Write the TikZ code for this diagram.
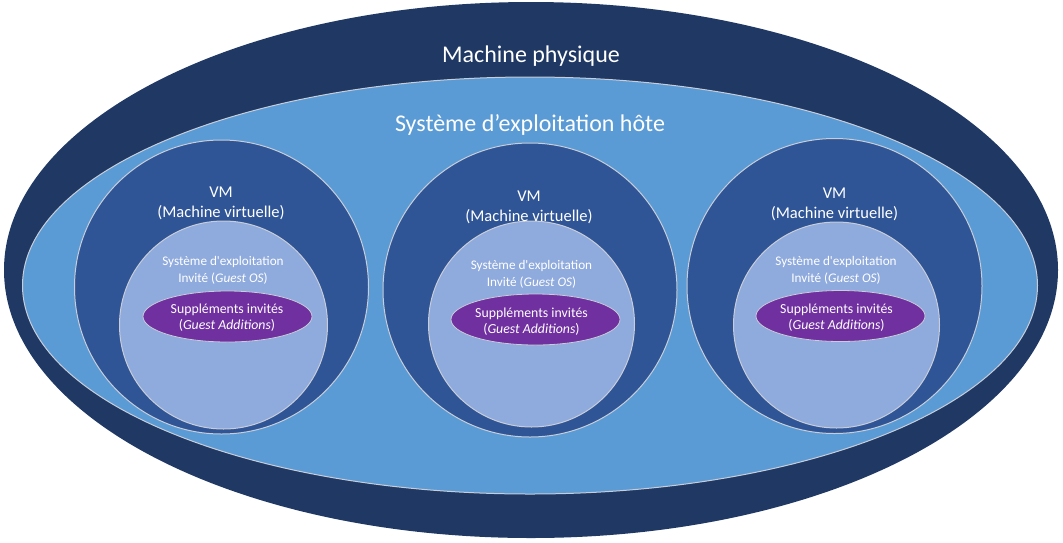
\documentclass[tikz,border=0pt]{standalone}
\usepackage{fontspec}
\setmainfont{Carlito}
\usepackage{tikz}
\usetikzlibrary{shapes.geometric}
\definecolor{physblue}{RGB}{32,56,100}
\definecolor{hostblue}{RGB}{91,155,213}
\definecolor{vmblue}{RGB}{47,85,151}
\definecolor{guestblue}{RGB}{143,170,220}
\definecolor{addpurple}{RGB}{112,48,160}
\definecolor{rimgray}{RGB}{200,205,215}
\tikzstyle{physnode}=[draw=none, shape=ellipse, fill=physblue, inner sep=0pt]
\tikzstyle{hostnode}=[draw=rimgray, line width=1pt, shape=ellipse, fill=hostblue, inner sep=0pt]
\tikzstyle{vmnode}=[draw=rimgray, line width=1pt, shape=circle, fill=vmblue, inner sep=0pt]
\tikzstyle{guestnode}=[draw=rimgray, line width=1pt, shape=circle, fill=guestblue, inner sep=0pt]
\tikzstyle{addnode}=[draw=rimgray, line width=0.8pt, shape=ellipse, fill=addpurple, inner sep=0pt, minimum width=169pt, minimum height=51pt]
\tikzstyle{titletext}=[text=white, align=center, inner sep=0pt, font=\fontsize{24}{28}\selectfont]
\tikzstyle{vmtext}=[text=white, align=center, inner sep=0pt, font=\fontsize{16.5}{20}\selectfont]
\tikzstyle{guesttext}=[text=white, align=center, inner sep=0pt, font=\fontsize{13.2}{17}\selectfont]
\tikzstyle{addtext}=[text=white, align=center, inner sep=0pt, font=\fontsize{13.8}{16.5}\selectfont]

\begin{document}
\begin{tikzpicture}[x=1pt, y=-1pt]
\useasboundingbox (0,0) rectangle (1063,542);
\node [physnode, minimum width=1054pt, minimum height=536pt] (phys) at (531,270) {};
\node [hostnode, minimum width=1015pt, minimum height=417pt] (host) at (530,285.5) {};

\node [vmnode, minimum size=294pt] (vm1) at (221.5,287) {};
\node [vmnode, minimum size=294pt] (vm2) at (530,290) {};
\node [vmnode, minimum size=295pt] (vm3) at (834.5,286) {};

\node [guestnode, minimum size=208pt] (guest1) at (223.5,325) {};
\node [guestnode, minimum size=206pt] (guest2) at (531.5,324) {};
\node [guestnode, minimum size=206pt] (guest3) at (836.5,325) {};

\node [addnode] (add1) at (227.5,316.5) {};
\node [addnode] (add2) at (535.5,319.5) {};
\node [addnode] (add3) at (840.5,316) {};

\node [titletext] (physlabel) at (531,56) {Machine physique};
\node [titletext] (hostlabel) at (530,125) {Système d’exploitation hôte};

\node [vmtext] (vmlabel1) at (221,203.5) {VM\\(Machine virtuelle)};
\node [vmtext] (vmlabel2) at (529,207.5) {VM\\(Machine virtuelle)};
\node [vmtext] (vmlabel3) at (834.5,204) {VM\\(Machine virtuelle)};

\node [guesttext] (guestlabel1) at (223,270) {Système d\textquotesingle exploitation\\Invité (\textit{Guest OS})};
\node [guesttext] (guestlabel2) at (531.5,274) {Système d\textquotesingle exploitation\\Invité (\textit{Guest OS})};
\node [guesttext] (guestlabel3) at (836,270.5) {Système d\textquotesingle exploitation\\Invité (\textit{Guest OS})};

\node [addtext] (addlabel1) at (227,317.5) {Suppléments invités\\(\textit{Guest Additions})};
\node [addtext] (addlabel2) at (531.5,321.5) {Suppléments invités\\(\textit{Guest Additions})};
\node [addtext] (addlabel3) at (836.5,317.5) {Suppléments invités\\(\textit{Guest Additions})};
\end{tikzpicture}
\end{document}
